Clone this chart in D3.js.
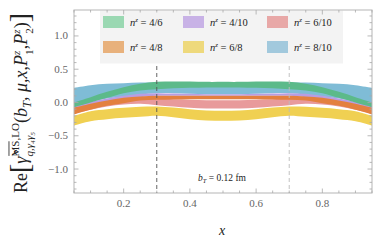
<!DOCTYPE html>
<html>
<head>
<meta charset="utf-8">
<script src="https://cdn.jsdelivr.net/npm/d3@7"></script>
<style>
  body { margin: 0; background: #fff; }
  svg text { font-family: "Liberation Serif", "DejaVu Serif", serif; }
</style>
</head>
<body>
<svg id="chart"></svg>
<script>
const width = 382, height = 243

// x grid of the bands
const xs = [0.05, 0.1, 0.15, 0.2, 0.25, 0.3, 0.35, 0.4, 0.45, 0.5, 0.55, 0.6, 0.65, 0.7, 0.75, 0.8, 0.85, 0.9, 0.95]

// band edges, one pair per n^z combination
const blueHi = [0.22, 0.26, 0.28, 0.29, 0.30, 0.30, 0.30, 0.29, 0.29, 0.29, 0.29, 0.29, 0.30, 0.30, 0.30, 0.29, 0.28, 0.26, 0.22]
const blueLo = [-0.04, 0.01, 0.06, 0.09, 0.12, 0.14, 0.14, 0.13, 0.125, 0.125, 0.125, 0.13, 0.14, 0.14, 0.12, 0.09, 0.06, 0.01, -0.04]
const greenHi = [0.00, 0.08, 0.16, 0.23, 0.28, 0.31, 0.315, 0.315, 0.31, 0.31, 0.31, 0.315, 0.315, 0.31, 0.28, 0.23, 0.16, 0.08, 0.00]
const greenLo = [-0.07, 0.00, 0.07, 0.14, 0.18, 0.20, 0.215, 0.22, 0.225, 0.225, 0.225, 0.22, 0.215, 0.20, 0.18, 0.14, 0.07, 0.00, -0.07]
const purpleHi = [-0.05, 0.01, 0.06, 0.10, 0.13, 0.14, 0.135, 0.13, 0.125, 0.125, 0.125, 0.13, 0.135, 0.14, 0.13, 0.10, 0.06, 0.01, -0.05]
const purpleLo = [-0.10, -0.04, 0.01, 0.05, 0.08, 0.10, 0.10, 0.10, 0.10, 0.10, 0.10, 0.10, 0.10, 0.10, 0.08, 0.05, 0.01, -0.04, -0.10]
const orangeHi = [-0.08, -0.02, 0.03, 0.07, 0.09, 0.10, 0.10, 0.10, 0.10, 0.10, 0.10, 0.10, 0.10, 0.10, 0.09, 0.07, 0.03, -0.02, -0.08]
const orangeLo = [-0.18, -0.11, -0.05, -0.01, 0.03, 0.04, 0.045, 0.05, 0.05, 0.05, 0.05, 0.05, 0.045, 0.04, 0.03, -0.01, -0.05, -0.11, -0.18]
const redHi = [-0.10, -0.04, 0.01, 0.05, 0.065, 0.06, 0.05, 0.04, 0.035, 0.035, 0.035, 0.04, 0.05, 0.06, 0.065, 0.05, 0.01, -0.04, -0.10]
const redLo = [-0.17, -0.11, -0.06, -0.03, -0.02, -0.04, -0.06, -0.08, -0.09, -0.09, -0.09, -0.08, -0.06, -0.04, -0.02, -0.03, -0.06, -0.11, -0.17]
const yellowHi = [-0.20, -0.13, -0.10, -0.08, -0.065, -0.06, -0.075, -0.10, -0.12, -0.125, -0.12, -0.10, -0.075, -0.06, -0.065, -0.08, -0.10, -0.13, -0.20]
const yellowLo = [-0.345, -0.28, -0.25, -0.23, -0.215, -0.20, -0.22, -0.25, -0.27, -0.275, -0.27, -0.25, -0.22, -0.20, -0.215, -0.23, -0.25, -0.28, -0.345]

const labels = ['4/6', '4/8', '4/10', '6/8', '6/10', '8/10']
const xTicks = [0.2, 0.4, 0.6, 0.8]
const yTicks = [-1.0, -0.5, 0.0, 0.5, 1.0]
const dashX = [0.3, 0.7]

const bands = [
  { label: '8/10', lo: blueLo, hi: blueHi, fill: '#7fbcd6', key: '#a2c9dd' },
  { label: '6/8', lo: yellowLo, hi: yellowHi, fill: '#f0d052', key: '#eed97c' },
  { label: '6/10', lo: redLo, hi: redHi, fill: '#e89a9b', key: '#e8a8a7' },
  { label: '4/10', lo: purpleLo, hi: purpleHi, fill: '#b99de2', key: '#c8b2e6' },
  { label: '4/8', lo: orangeLo, hi: orangeHi, fill: '#e3803f', key: '#e8b17c' },
  { label: '4/6', lo: greenLo, hi: greenHi, fill: '#5cba8a', key: '#9ad8b2' }
]

const svg = d3.select('#chart').attr('width', width).attr('height', height)
  .attr('font-family', '"Liberation Serif", "DejaVu Serif", serif')

const x = d3.scaleLinear().domain([0.05, 0.95]).range([74, 372])
const y = d3.scaleLinear().domain([-1.36, 1.39]).range([193, 10])

const x0 = x.range()[0], x1 = x.range()[1]
const y0 = y.range()[1], y1 = y.range()[0]

// bands
const area = d3.area()
  .x(d => x(d.x))
  .y0(d => y(d.lo))
  .y1(d => y(d.hi))
  .curve(d3.curveCatmullRom)

svg.append('g')
  .selectAll('path')
  .data(bands)
  .join('path')
  .attr('d', b => area(xs.map((v, i) => ({ x: v, lo: b.lo[i], hi: b.hi[i] }))))
  .attr('fill', b => b.fill)

// dashed lines
svg.append('g')
  .selectAll('line')
  .data(dashX)
  .join('line')
  .attr('x1', d => x(d)).attr('x2', d => x(d))
  .attr('y1', y0).attr('y2', y1)
  .attr('stroke', (d, i) => i === 0 ? '#555' : '#bbb')
  .attr('stroke-width', 0.9)
  .attr('stroke-dasharray', '4,3')

// legend
const legend = svg.append('g')
legend.append('rect')
  .attr('x', 100).attr('y', y0 + 0.5)
  .attr('width', 243).attr('height', 53)
  .attr('fill', '#f3f3f3')

const colX = [103, 183, 267]
const rowY = [16, 41]
labels.forEach((lab, i) => {
  const b = bands.find(d => d.label === lab)
  const cx = colX[Math.floor(i / 2)], ry = rowY[i % 2]
  legend.append('rect')
    .attr('x', cx).attr('y', ry)
    .attr('width', 21).attr('height', 12)
    .attr('fill', b.key)
  const t = legend.append('text')
    .attr('x', cx + 27).attr('y', ry + 9.5)
    .attr('font-size', 10.5).attr('fill', '#222')
  t.append('tspan').attr('font-style', 'italic').text('n')
  t.append('tspan').attr('font-style', 'italic').attr('font-size', 7).attr('dy', -4).text('z')
  t.append('tspan').attr('dy', 4).text(' = ' + lab)
})

// frame
svg.append('rect')
  .attr('x', x0).attr('y', y0)
  .attr('width', x1 - x0).attr('height', y1 - y0)
  .attr('fill', 'none').attr('stroke', '#b5b5b5').attr('stroke-width', 1)

const tickCol = '#a8a8a8'
const xMinor = d3.range(0.05, 0.951, 0.05)
const yMinor = d3.range(-1.3, 1.31, 0.1)

const ticks = svg.append('g').attr('stroke', tickCol).attr('stroke-width', 0.8)
xMinor.forEach(v => {
  const major = xTicks.some(t => Math.abs(t - v) < 1e-6)
  const len = major ? 4.5 : 2.5
  ticks.append('line').attr('x1', x(v)).attr('x2', x(v)).attr('y1', y1).attr('y2', y1 - len)
  ticks.append('line').attr('x1', x(v)).attr('x2', x(v)).attr('y1', y0).attr('y2', y0 + len)
})
yMinor.forEach(v => {
  const major = yTicks.some(t => Math.abs(t - v) < 1e-6)
  const len = major ? 4.5 : 2.5
  ticks.append('line').attr('x1', x0).attr('x2', x0 + len).attr('y1', y(v)).attr('y2', y(v))
  ticks.append('line').attr('x1', x1).attr('x2', x1 - len).attr('y1', y(v)).attr('y2', y(v))
})

// tick labels
const fmt = d3.format('.1f')
svg.append('g')
  .selectAll('text')
  .data(xTicks)
  .join('text')
  .attr('x', d => x(d)).attr('y', 207)
  .attr('text-anchor', 'middle')
  .attr('font-size', 11).attr('fill', '#666')
  .text(d => fmt(d))

svg.append('g')
  .selectAll('text')
  .data(yTicks)
  .join('text')
  .attr('x', 68).attr('y', d => y(d) + 3.5)
  .attr('text-anchor', 'end')
  .attr('font-size', 11).attr('fill', '#666')
  .text(d => fmt(d).replace('-', '\u2212'))

// x label
svg.append('text')
  .attr('x', 222).attr('y', 235)
  .attr('text-anchor', 'middle')
  .attr('font-size', 14).attr('font-style', 'italic').attr('fill', '#222')
  .text('x')

// b_T annotation
const ann = svg.append('text')
  .attr('x', 222).attr('y', 181)
  .attr('text-anchor', 'middle')
  .attr('font-size', 9.5).attr('fill', '#222')
ann.append('tspan').attr('font-style', 'italic').text('b')
ann.append('tspan').attr('font-style', 'italic').attr('font-size', 6.5).attr('dy', 2).text('T')
ann.append('tspan').attr('dy', -2).text(' = 0.12 fm')

// y label, laid out piece by piece then rotated
const yl = svg.append('g')
const segs = [
  { t: 'Re ', s: 13 },
  { t: '[', s: 20, dy: 1.5 },
  { t: 'γ̂', s: 13, it: true },
  { t: 'MS', s: 8, dy: -6, over: true, stack: 'q,γ₄γ₅' },
  { t: ',LO', s: 8, dy: -6 },
  { t: '(', s: 13 },
  { t: 'b', s: 13, it: true },
  { t: 'T', s: 9, it: true, dy: 3 },
  { t: ', μ, ', s: 13, it: true },
  { t: 'x', s: 13, it: true },
  { t: ', ', s: 13 },
  { t: 'P', s: 13, it: true },
  { t: 'z', s: 8, it: true, dy: -5, stack: '1' },
  { t: ', ', s: 13 },
  { t: 'P', s: 13, it: true },
  { t: 'z', s: 8, it: true, dy: -5, stack: '2' },
  { t: ')', s: 13 },
  { t: ']', s: 20, dy: 1.5 }
]
let cx = 0
segs.forEach(sg => {
  const t = yl.append('text').attr('x', cx).attr('y', sg.dy || 0)
    .attr('font-size', sg.s).attr('fill', '#222')
    .attr('font-style', sg.it ? 'italic' : 'normal')
    .text(sg.t)
  let w = t.node().getComputedTextLength()
  if (sg.over) {
    yl.append('line').attr('x1', cx + 0.5).attr('x2', cx + w - 0.5)
      .attr('y1', sg.dy - 7).attr('y2', sg.dy - 7)
      .attr('stroke', '#222').attr('stroke-width', 0.6)
  }
  if (sg.stack) {
    const s2 = yl.append('text').attr('x', cx).attr('y', 4)
      .attr('font-size', 8).attr('fill', '#222')
      .attr('font-style', sg.it ? 'normal' : 'italic')
      .text(sg.stack)
    const w2 = s2.node().getComputedTextLength()
    if (sg.t === 'MS') {
      sg.sub = w2
    } else {
      w = Math.max(w, w2)
    }
  }
  if (sg.t === ',LO') {
    const prev = segs[3]
    w = Math.max(w, (prev.sub || 0) - (cx - prev.x))
  }
  sg.x = cx
  cx += w
})
const total = cx
const k = 180 / total
yl.attr('transform', `translate(27, ${193}) rotate(-90) scale(${k})`)
</script>
</body>
</html>
